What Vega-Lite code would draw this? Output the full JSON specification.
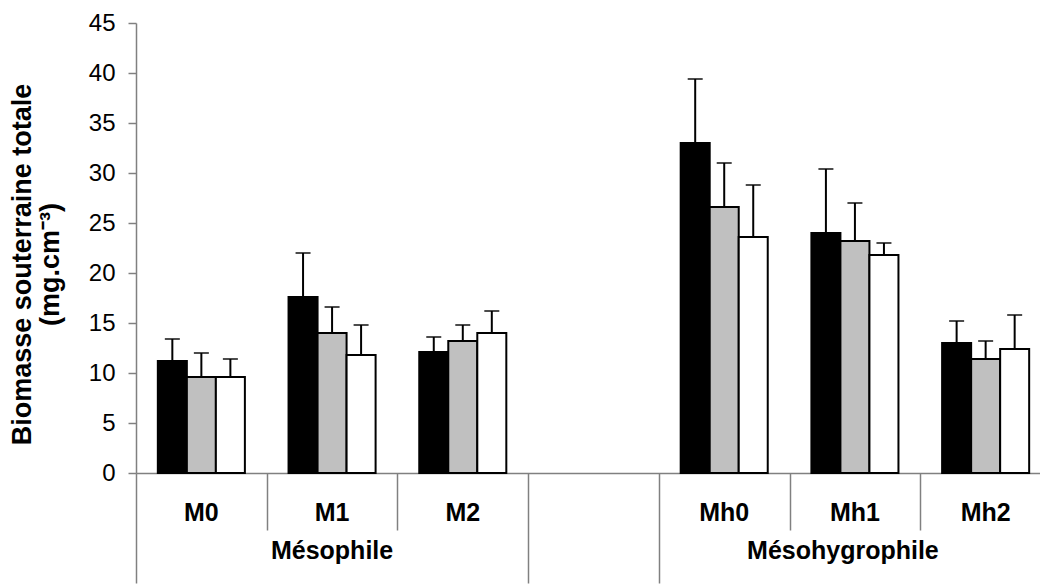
{
  "$schema": "https://vega.github.io/schema/vega-lite/v6.json",
  "width": 904,
  "height": 450,
  "autosize": "none",
  "padding": {"left": 136, "top": 23, "right": 0, "bottom": 112},
  "background": "white",
  "config": {"view": {"stroke": null}, "font": "Liberation Sans"},
  "data": {"values": [
    {"cat": "M0", "serie": "1", "val": 11.2, "hi": 13.4},
    {"cat": "M0", "serie": "2", "val": 9.6, "hi": 12.0},
    {"cat": "M0", "serie": "3", "val": 9.6, "hi": 11.4},
    {"cat": "M1", "serie": "1", "val": 17.6, "hi": 22.0},
    {"cat": "M1", "serie": "2", "val": 14.0, "hi": 16.6},
    {"cat": "M1", "serie": "3", "val": 11.8, "hi": 14.8},
    {"cat": "M2", "serie": "1", "val": 12.1, "hi": 13.6},
    {"cat": "M2", "serie": "2", "val": 13.2, "hi": 14.8},
    {"cat": "M2", "serie": "3", "val": 14.0, "hi": 16.2},
    {"cat": "Mh0", "serie": "1", "val": 33.0, "hi": 39.4},
    {"cat": "Mh0", "serie": "2", "val": 26.6, "hi": 31.0},
    {"cat": "Mh0", "serie": "3", "val": 23.6, "hi": 28.8},
    {"cat": "Mh1", "serie": "1", "val": 24.0, "hi": 30.4},
    {"cat": "Mh1", "serie": "2", "val": 23.2, "hi": 27.0},
    {"cat": "Mh1", "serie": "3", "val": 21.8, "hi": 23.0},
    {"cat": "Mh2", "serie": "1", "val": 13.0, "hi": 15.2},
    {"cat": "Mh2", "serie": "2", "val": 11.4, "hi": 13.2},
    {"cat": "Mh2", "serie": "3", "val": 12.4, "hi": 15.8}
  ]},
  "resolve": {"axis": {"x": "independent"}},
  "layer": [
    {
      "mark": {"type": "bar", "stroke": "black", "strokeWidth": 2},
      "encoding": {
        "x": {"field": "cat", "type": "nominal",
          "scale": {"domain": ["M0", "M1", "M2", " ", "Mh0", "Mh1", "Mh2"], "range": [0, 915], "paddingInner": 0.334, "paddingOuter": 0.167},
          "axis": {"orient": "bottom", "title": null, "ticks": false, "domain": true, "domainColor": "#808080", "domainWidth": 1.5,
            "labelAngle": 0, "labelFontSize": 25, "labelFontWeight": "bold", "labelColor": "black", "labelPadding": 27, "labelBaseline": "top", "labelLimit": 0}},
        "xOffset": {"field": "serie", "type": "nominal", "scale": {"paddingInner": 0, "paddingOuter": 0}},
        "y": {"field": "val", "type": "quantitative",
          "scale": {"domain": [0, 45], "nice": false, "zero": true},
          "axis": {"title": ["Biomasse souterraine totale", "(mg.cm⁻³)"], "titleFontSize": 27, "titleFontWeight": "bold", "titleColor": "black",
            "titleLineHeight": 28, "titlePadding": 24, "titleY": 241,
            "values": [0, 5, 10, 15, 20, 25, 30, 35, 40, 45], "grid": false,
            "domainColor": "#808080", "domainWidth": 1.5, "tickColor": "#808080", "tickWidth": 1.5, "tickSize": 8,
            "labelFontSize": 24, "labelColor": "black", "labelPadding": 13}},
        "color": {"field": "serie", "type": "nominal", "scale": {"domain": ["1", "2", "3"], "range": ["#000000", "#c0c0c0", "#ffffff"]}, "legend": null}
      }
    },
    {
      "mark": {"type": "rule", "color": "black", "strokeWidth": 2},
      "encoding": {
        "x": {"field": "cat", "type": "nominal",
          "axis": {"orient": "bottom", "title": null, "labels": false, "domain": false, "bandPosition": 0, "tickOffset": -21.83,
            "values": ["M0", "M1", "M2", " ", "Mh0", "Mh1", "Mh2"],
            "tickColor": "#808080", "tickWidth": 1.5,
            "tickSize": {"condition": {"test": "indexof(['M0', ' ', 'Mh0'], datum.value) >= 0", "value": 110}, "value": 57}}},
        "xOffset": {"field": "serie", "type": "nominal"},
        "y": {"field": "val", "type": "quantitative"},
        "y2": {"field": "hi"}
      }
    },
    {
      "mark": {"type": "tick", "orient": "horizontal", "color": "black", "size": 15, "thickness": 2},
      "encoding": {
        "x": {"field": "cat", "type": "nominal",
          "axis": {"orient": "bottom", "title": null, "ticks": false, "domain": false, "values": ["M1", "Mh1"],
            "labelExpr": "datum.value == 'M1' ? 'Mésophile' : 'Mésohygrophile'", "labelLimit": 0,
            "labelOffset": {"condition": {"test": "datum.value == 'Mh1'", "value": -12}, "value": 0},
            "labelAngle": 0, "labelFontSize": 25, "labelFontWeight": "bold", "labelColor": "black", "labelPadding": 65, "labelBaseline": "top"}},
        "xOffset": {"field": "serie", "type": "nominal"},
        "y": {"field": "hi", "type": "quantitative"}
      }
    }
  ]
}
